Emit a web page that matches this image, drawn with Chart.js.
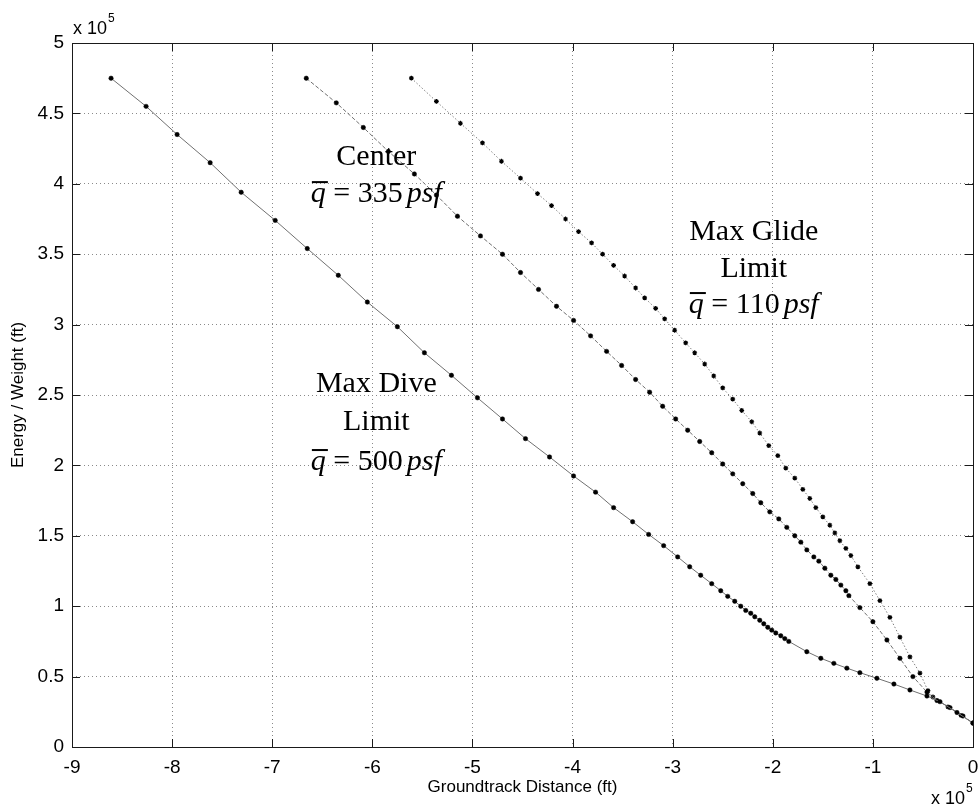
<!DOCTYPE html>
<html>
<head>
<meta charset="utf-8">
<script src="https://cdn.jsdelivr.net/npm/chart.js@4.4.1/dist/chart.umd.min.js"></script>
<style>
  html, body { margin: 0; padding: 0; background: #fff; }
  #wrap { width: 979px; height: 808px; }
</style>
</head>
<body>
<div id="wrap"><canvas id="chart" width="979" height="808"></canvas></div>
<script>
/* ── Data (x and y in units of 1e5 ft) ───────────────────── */
const diveX = [-8.61,-8.26,-7.95,-7.62,-7.31,-6.97,-6.65,-6.34,-6.05,-5.75,-5.48,-5.21,-4.95,-4.70,-4.47,-4.23,
  -3.99,-3.77,-3.59,-3.40,-3.24,-3.09,-2.95,-2.83,-2.72,-2.61,-2.52,-2.45,-2.38,-2.32,-2.27,-2.22,-2.18,-2.13,
  -2.09,-2.05,-2.01,-1.97,-1.92,-1.88,-1.84,-1.66,-1.52,-1.39,-1.26,-1.13,-0.96,-0.79,-0.63,-0.46,-0.33,-0.16,0];
const diveY = [4.75,4.55,4.35,4.15,3.94,3.74,3.54,3.35,3.16,2.985,2.80,2.64,2.48,2.33,2.19,2.06,
  1.925,1.81,1.70,1.60,1.51,1.43,1.35,1.28,1.22,1.16,1.11,1.07,1.035,1.00,0.97,0.95,0.925,0.90,
  0.875,0.85,0.83,0.81,0.79,0.77,0.75,0.677,0.63,0.594,0.56,0.528,0.488,0.447,0.405,0.362,0.322,0.245,0.17];

const centerX = [-6.66,-6.36,-6.09,-5.84,-5.58,-5.36,-5.15,-4.92,-4.70,-4.52,-4.34,-4.16,-3.99,-3.82,-3.66,-3.51,
  -3.37,-3.23,-3.10,-2.97,-2.85,-2.73,-2.61,-2.50,-2.40,-2.30,-2.20,-2.12,-2.03,-1.94,-1.86,-1.78,-1.72,-1.66,
  -1.59,-1.54,-1.48,-1.42,-1.37,-1.32,-1.27,-1.24,-1.13,-1.00,-0.86,-0.73,-0.60,-0.46,-0.36,-0.23,-0.10,0];
const centerY = [4.75,4.575,4.40,4.23,4.07,3.92,3.77,3.63,3.50,3.37,3.25,3.13,3.03,2.92,2.81,2.71,
  2.61,2.52,2.42,2.33,2.25,2.17,2.09,2.01,1.94,1.87,1.80,1.735,1.67,1.62,1.56,1.50,1.455,1.40,
  1.35,1.32,1.27,1.22,1.19,1.15,1.11,1.075,0.99,0.89,0.76,0.63,0.50,0.39,0.33,0.28,0.22,0.17];

const glideX = [-5.61,-5.36,-5.12,-4.90,-4.71,-4.52,-4.35,-4.21,-4.07,-3.94,-3.81,-3.70,-3.59,-3.48,-3.37,-3.28,
  -3.17,-3.08,-2.98,-2.87,-2.78,-2.68,-2.59,-2.50,-2.40,-2.31,-2.21,-2.13,-2.04,-1.95,-1.87,-1.78,-1.70,-1.63,
  -1.57,-1.50,-1.43,-1.38,-1.33,-1.27,-1.22,-1.15,-1.03,-0.93,-0.83,-0.73,-0.63,-0.53,-0.45,-0.40,-0.25,-0.12,0];
const glideY = [4.75,4.585,4.43,4.29,4.16,4.04,3.93,3.845,3.75,3.66,3.58,3.50,3.42,3.345,3.26,3.19,
  3.115,3.04,2.96,2.87,2.80,2.72,2.635,2.55,2.47,2.39,2.31,2.23,2.14,2.07,1.98,1.91,1.83,1.765,
  1.70,1.635,1.575,1.52,1.465,1.41,1.36,1.28,1.16,1.04,0.92,0.78,0.64,0.525,0.40,0.355,0.285,0.225,0.17];

const xTicks = [-9,-8,-7,-6,-5,-4,-3,-2,-1,0];
const yTicks = [0,0.5,1,1.5,2,2.5,3,3.5,4,4.5,5];

/* ── Annotations (text lines + q-bar value) ─────────────── */
const NOTES = [
  { lines: ['Center'],             q: '335', x: -5.96, ys: [4.134], yq: 3.87 },
  { lines: ['Max Glide', 'Limit'], q: '110', x: -2.19, ys: [3.60, 3.338], yq: 3.082 },
  { lines: ['Max Dive', 'Limit'],  q: '500', x: -5.96, ys: [2.521, 2.251], yq: 1.967 },
];

const SANS  = '"Liberation Sans", Arial, Helvetica, sans-serif';
const SERIF = '"Liberation Serif", "Times New Roman", Times, serif';

const pts = (xs, ys) => xs.map((x, i) => ({ x, y: ys[i] }));

/* ── q-bar formula ───────────────────────────────────────── */
function dessinerQ(ctx, cx, base, val) {
  const it = `italic 30px ${SERIF}`, nr = `30px ${SERIF}`;
  ctx.font = it; const wq = ctx.measureText('q').width;
  ctx.font = nr; const wm = ctx.measureText(' = ' + val).width;
  ctx.font = it; const wp = ctx.measureText('psf').width;
  const gap = 4;
  let x = cx - (wq + wm + gap + wp) / 2;
  ctx.textAlign = 'left';
  ctx.font = it; ctx.fillText('q', x, base);
  ctx.fillRect(x + 1, base - 21, wq + 1, 2);
  x += wq;
  ctx.font = nr; ctx.fillText(' = ' + val, x, base);
  x += wm + gap;
  ctx.font = it; ctx.fillText('psf', x, base);
}

/* ── Frame, inward ticks, exponents, annotations ────────── */
const decor = {
  id: 'decor',
  afterDraw(chart) {
    const { ctx, chartArea: a, scales: { x, y } } = chart;
    ctx.save();
    ctx.strokeStyle = '#1a1a1a';
    ctx.lineWidth = 1;
    ctx.strokeRect(a.left + 0.5, a.top + 0.5, a.right - a.left, a.bottom - a.top);

    ctx.beginPath();
    const L = 8;
    xTicks.forEach(v => {
      const px = Math.round(x.getPixelForValue(v)) + 0.5;
      ctx.moveTo(px, a.bottom); ctx.lineTo(px, a.bottom - L);
      ctx.moveTo(px, a.top);    ctx.lineTo(px, a.top + L);
    });
    yTicks.forEach(v => {
      const py = Math.round(y.getPixelForValue(v)) + 0.5;
      ctx.moveTo(a.left, py);  ctx.lineTo(a.left + L, py);
      ctx.moveTo(a.right, py); ctx.lineTo(a.right - L, py);
    });
    ctx.stroke();

    /* x 10^5 exponents */
    ctx.fillStyle = '#000';
    ctx.textBaseline = 'alphabetic';
    ctx.textAlign = 'left';
    ctx.font = `18px ${SANS}`;
    ctx.fillText('x 10', a.left + 1, a.top - 9);
    const w1 = ctx.measureText('x 10').width;
    ctx.font = `12px ${SANS}`;
    ctx.fillText('5', a.left + 2 + w1, a.top - 21);

    ctx.font = `18px ${SANS}`;
    const w2 = ctx.measureText('x 10').width;
    ctx.fillText('x 10', a.right - w2 - 8, 804);
    ctx.font = `12px ${SANS}`;
    ctx.fillText('5', a.right - 7, 792);

    /* annotations */
    NOTES.forEach(n => {
      const cx = x.getPixelForValue(n.x);
      ctx.font = `30px ${SERIF}`;
      ctx.textAlign = 'center';
      n.lines.forEach((t, i) => ctx.fillText(t, cx, y.getPixelForValue(n.ys[i])));
      dessinerQ(ctx, cx, y.getPixelForValue(n.yq), n.q);
    });
    ctx.restore();
  },
};

new Chart(document.getElementById('chart').getContext('2d'), {
  type: 'line',
  data: {
    datasets: [
      {
        data: pts(diveX, diveY),
        borderColor: '#707070', borderWidth: 1,
        pointRadius: 2.2, pointBackgroundColor: '#000', pointBorderColor: '#000', pointBorderWidth: 0.5,
      },
      {
        data: pts(centerX, centerY),
        borderColor: '#707070', borderWidth: 1, borderDash: [4, 2],
        pointRadius: 2.2, pointBackgroundColor: '#000', pointBorderColor: '#000', pointBorderWidth: 0.5,
      },
      {
        data: pts(glideX, glideY),
        borderColor: '#808080', borderWidth: 1, borderDash: [1.5, 2],
        pointStyle: 'star', pointRadius: 2.4, pointBorderColor: '#000', pointBorderWidth: 1.2,
      },
    ],
  },
  options: {
    responsive: false,
    animation: false,
    layout: { padding: { top: 43, right: 6, left: 0, bottom: 0 } },
    plugins: { legend: { display: false }, tooltip: { enabled: false } },
    elements: { line: { tension: 0 } },
    scales: {
      x: {
        type: 'linear', min: -9, max: 0,
        afterBuildTicks: s => { s.ticks = xTicks.map(v => ({ value: v })); },
        afterFit: s => { s.height = 61; s.paddingLeft = 0; s.paddingRight = 0; },
        grid: { color: '#8a8a8a', lineWidth: 1, drawTicks: false },
        border: { display: false, dash: [1, 3] },
        ticks: { color: '#000', font: { family: SANS, size: 19 }, padding: 9, maxRotation: 0, autoSkip: false },
        title: { display: true, text: 'Groundtrack Distance (ft)', color: '#000',
                 font: { family: SANS, size: 17 }, padding: { top: 0, bottom: 10 } },
      },
      y: {
        type: 'linear', min: 0, max: 5,
        afterBuildTicks: s => { s.ticks = yTicks.map(v => ({ value: v })); },
        afterFit: s => { s.width = 72; s.paddingTop = 0; s.paddingBottom = 0; },
        grid: { color: '#8a8a8a', lineWidth: 1, drawTicks: false },
        border: { display: false, dash: [1, 3] },
        ticks: { color: '#000', font: { family: SANS, size: 19 }, padding: 8, autoSkip: false,
                 callback: v => String(v) },
        title: { display: true, text: 'Energy / Weight (ft)', color: '#000',
                 font: { family: SANS, size: 17 }, padding: { top: 8, bottom: 0 } },
      },
    },
  },
  plugins: [decor],
});
</script>
</body>
</html>
